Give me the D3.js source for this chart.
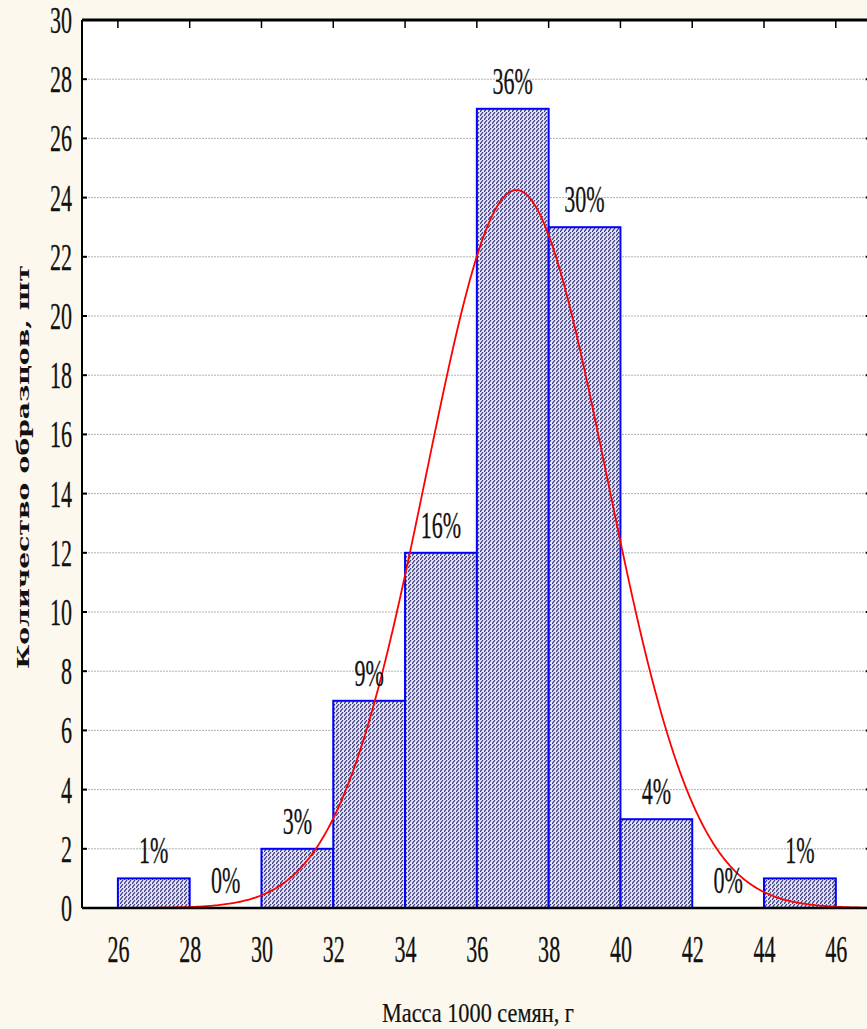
<!DOCTYPE html>
<html>
<head>
<meta charset="utf-8">
<script src="https://cdn.jsdelivr.net/npm/d3@7"></script>
<style>
  html, body { margin: 0; padding: 0; background: #fdf8ed; }
  svg { display: block; }
  text { font-family: "Liberation Serif", "Times New Roman", serif; fill: #111; }
  .num { font-family: "Liberation Serif", "Times New Roman", serif; font-size: 38px; stroke: #111; stroke-width: 0.3px; }
</style>
</head>
<body>
<svg id="chart" width="867" height="1029"></svg>
<script>
// Histogram bins of 1000-seed mass (g): lower edge, upper edge, sample count
const binStarts = [26, 28, 30, 32, 34, 36, 38, 40, 42, 44];
const binEnds   = [28, 30, 32, 34, 36, 38, 40, 42, 44, 46];
const counts    = [1, 0, 2, 7, 12, 27, 23, 3, 0, 1];
const percentLabels = ["1%", "0%", "3%", "9%", "16%", "36%", "30%", "4%", "0%", "1%"];

// Axis ticks
const xTicks = [26, 28, 30, 32, 34, 36, 38, 40, 42, 44, 46];
const yTicks = [0, 2, 4, 6, 8, 10, 12, 14, 16, 18, 20, 22, 24, 26, 28, 30];

// Fitted normal distribution (expected counts per 2 g bin)
const fitMean = 37.1;
const fitSd = 2.5;
const binWidth = 2;

const svg = d3.select("#chart");
const plotLeft = 82, plotTop = 20, plotBottom = 908, plotRight = 871.7;
const squeeze = 0.58; // narrow numerals

const x = d3.scaleLinear().domain([25, 47]).range([plotLeft, plotRight]);
const y = d3.scaleLinear().domain([0, 30]).range([plotBottom, plotTop]);

// Narrow a text element by fitting its glyphs into a shorter length
function narrow(sel) {
  sel.each(function () {
    const w = this.getComputedTextLength();
    d3.select(this).attr("textLength", w * squeeze).attr("lengthAdjust", "spacingAndGlyphs");
  });
}

// Plot background
svg.append("rect")
  .attr("x", plotLeft).attr("y", plotTop)
  .attr("width", plotRight - plotLeft).attr("height", plotBottom - plotTop)
  .attr("fill", "#ffffff");

// Hatch fill for the bars
const defs = svg.append("defs");
const pat = defs.append("pattern")
  .attr("id", "hatch")
  .attr("patternUnits", "userSpaceOnUse")
  .attr("width", 4).attr("height", 4);
pat.append("rect").attr("width", 4).attr("height", 4).attr("fill", "#e4e4f4");
pat.append("path")
  .attr("d", "M0,4 L3,0")
  .attr("stroke", "#2c2c78").attr("stroke-width", 1.1);

// Horizontal dotted gridlines
svg.append("g")
  .selectAll("line")
  .data(yTicks.filter(d => d > 0 && d < 30))
  .join("line")
  .attr("x1", plotLeft).attr("x2", plotRight)
  .attr("y1", d => y(d)).attr("y2", d => y(d))
  .attr("stroke", "#b0b0b0")
  .attr("stroke-width", 1)
  .attr("stroke-dasharray", "2,1");

// Bars
const bins = binStarts.map((s, i) => ({ x0: s, x1: binEnds[i], n: counts[i], label: percentLabels[i] }));

svg.append("g")
  .selectAll("rect")
  .data(bins.filter(d => d.n > 0))
  .join("rect")
  .attr("x", d => x(d.x0))
  .attr("y", d => y(d.n))
  .attr("width", d => x(d.x1) - x(d.x0))
  .attr("height", d => y(0) - y(d.n))
  .attr("fill", "url(#hatch)")
  .attr("stroke", "#0000ff")
  .attr("stroke-width", 2);

// Fitted normal curve
const total = counts.reduce((a, b) => a + b, 0);
const normalCount = v => total * binWidth /
  (fitSd * Math.sqrt(2 * Math.PI)) * Math.exp(-0.5 * ((v - fitMean) / fitSd) ** 2);
const curveXs = d3.range(25, 47.001, 0.05);
svg.append("path")
  .datum(curveXs)
  .attr("d", d3.line().x(d => x(d)).y(d => y(normalCount(d))))
  .attr("fill", "none")
  .attr("stroke", "#ff0000")
  .attr("stroke-width", 1.8);

// Percentage labels above each bin
svg.append("g")
  .selectAll("text")
  .data(bins)
  .join("text")
  .attr("class", "num")
  .attr("x", d => x((d.x0 + d.x1) / 2))
  .attr("y", d => y(d.n) - 15)
  .attr("text-anchor", "middle")
  .text(d => d.label)
  .call(narrow);

// Bottom axis labels
const xAxis = svg.append("g")
  .attr("transform", `translate(0,${plotBottom})`)
  .call(d3.axisBottom(x).tickValues(xTicks).tickSize(0).tickPadding(0).tickFormat(d3.format("d")));
xAxis.select(".domain").remove();
xAxis.selectAll("text")
  .attr("class", "num")
  .attr("y", 54).attr("dy", null)
  .attr("fill", "#111")
  .call(narrow);

// Left axis labels
const yAxis = svg.append("g")
  .attr("transform", `translate(${plotLeft},0)`)
  .call(d3.axisLeft(y).tickValues(yTicks).tickSize(0).tickFormat(d3.format("d")));
yAxis.select(".domain").remove();
yAxis.selectAll("text")
  .attr("class", "num")
  .attr("x", -10).attr("dy", "0.33em")
  .attr("fill", "#111")
  .call(narrow);

// Frame lines and inward tick marks
const frame = svg.append("g").attr("stroke", "#000");
frame.append("line").attr("x1", plotLeft).attr("x2", plotRight).attr("y1", plotTop).attr("y2", plotTop).attr("stroke-width", 3);
frame.append("line").attr("x1", plotLeft).attr("x2", plotRight).attr("y1", plotBottom).attr("y2", plotBottom).attr("stroke-width", 2.5);
frame.append("line").attr("x1", plotLeft).attr("x2", plotLeft).attr("y1", plotTop).attr("y2", plotBottom).attr("stroke-width", 2);
frame.append("line").attr("x1", plotRight).attr("x2", plotRight).attr("y1", plotTop).attr("y2", plotBottom).attr("stroke-width", 2);

frame.selectAll(".ttick").data(xTicks).join("line")
  .attr("x1", d => x(d)).attr("x2", d => x(d))
  .attr("y1", plotTop).attr("y2", plotTop + 8).attr("stroke-width", 1.5);
frame.selectAll(".ltick").data(yTicks).join("line")
  .attr("x1", plotLeft).attr("x2", plotLeft + 5)
  .attr("y1", d => y(d)).attr("y2", d => y(d)).attr("stroke-width", 2);
frame.selectAll(".rtick").data(yTicks).join("line")
  .attr("x1", plotRight - 6).attr("x2", plotRight)
  .attr("y1", d => y(d)).attr("y2", d => y(d)).attr("stroke-width", 2);

// Axis titles
svg.append("text")
  .attr("x", 382).attr("y", 1022)
  .attr("font-size", 27)
  .attr("textLength", 192)
  .attr("lengthAdjust", "spacingAndGlyphs")
  .attr("stroke", "#111").attr("stroke-width", 0.2)
  .text("Масса 1000 семян, г");

svg.append("text")
  .attr("transform", "translate(29,467) rotate(-90)")
  .attr("text-anchor", "middle")
  .attr("font-size", 17)
  .attr("font-weight", "bold")
  .attr("textLength", 404)
  .attr("lengthAdjust", "spacingAndGlyphs")
  .style("font-family", "DejaVu Serif, serif")
  .attr("fill", "#1a1a1a")
  .text("Количество образцов, шт");
</script>
</body>
</html>
